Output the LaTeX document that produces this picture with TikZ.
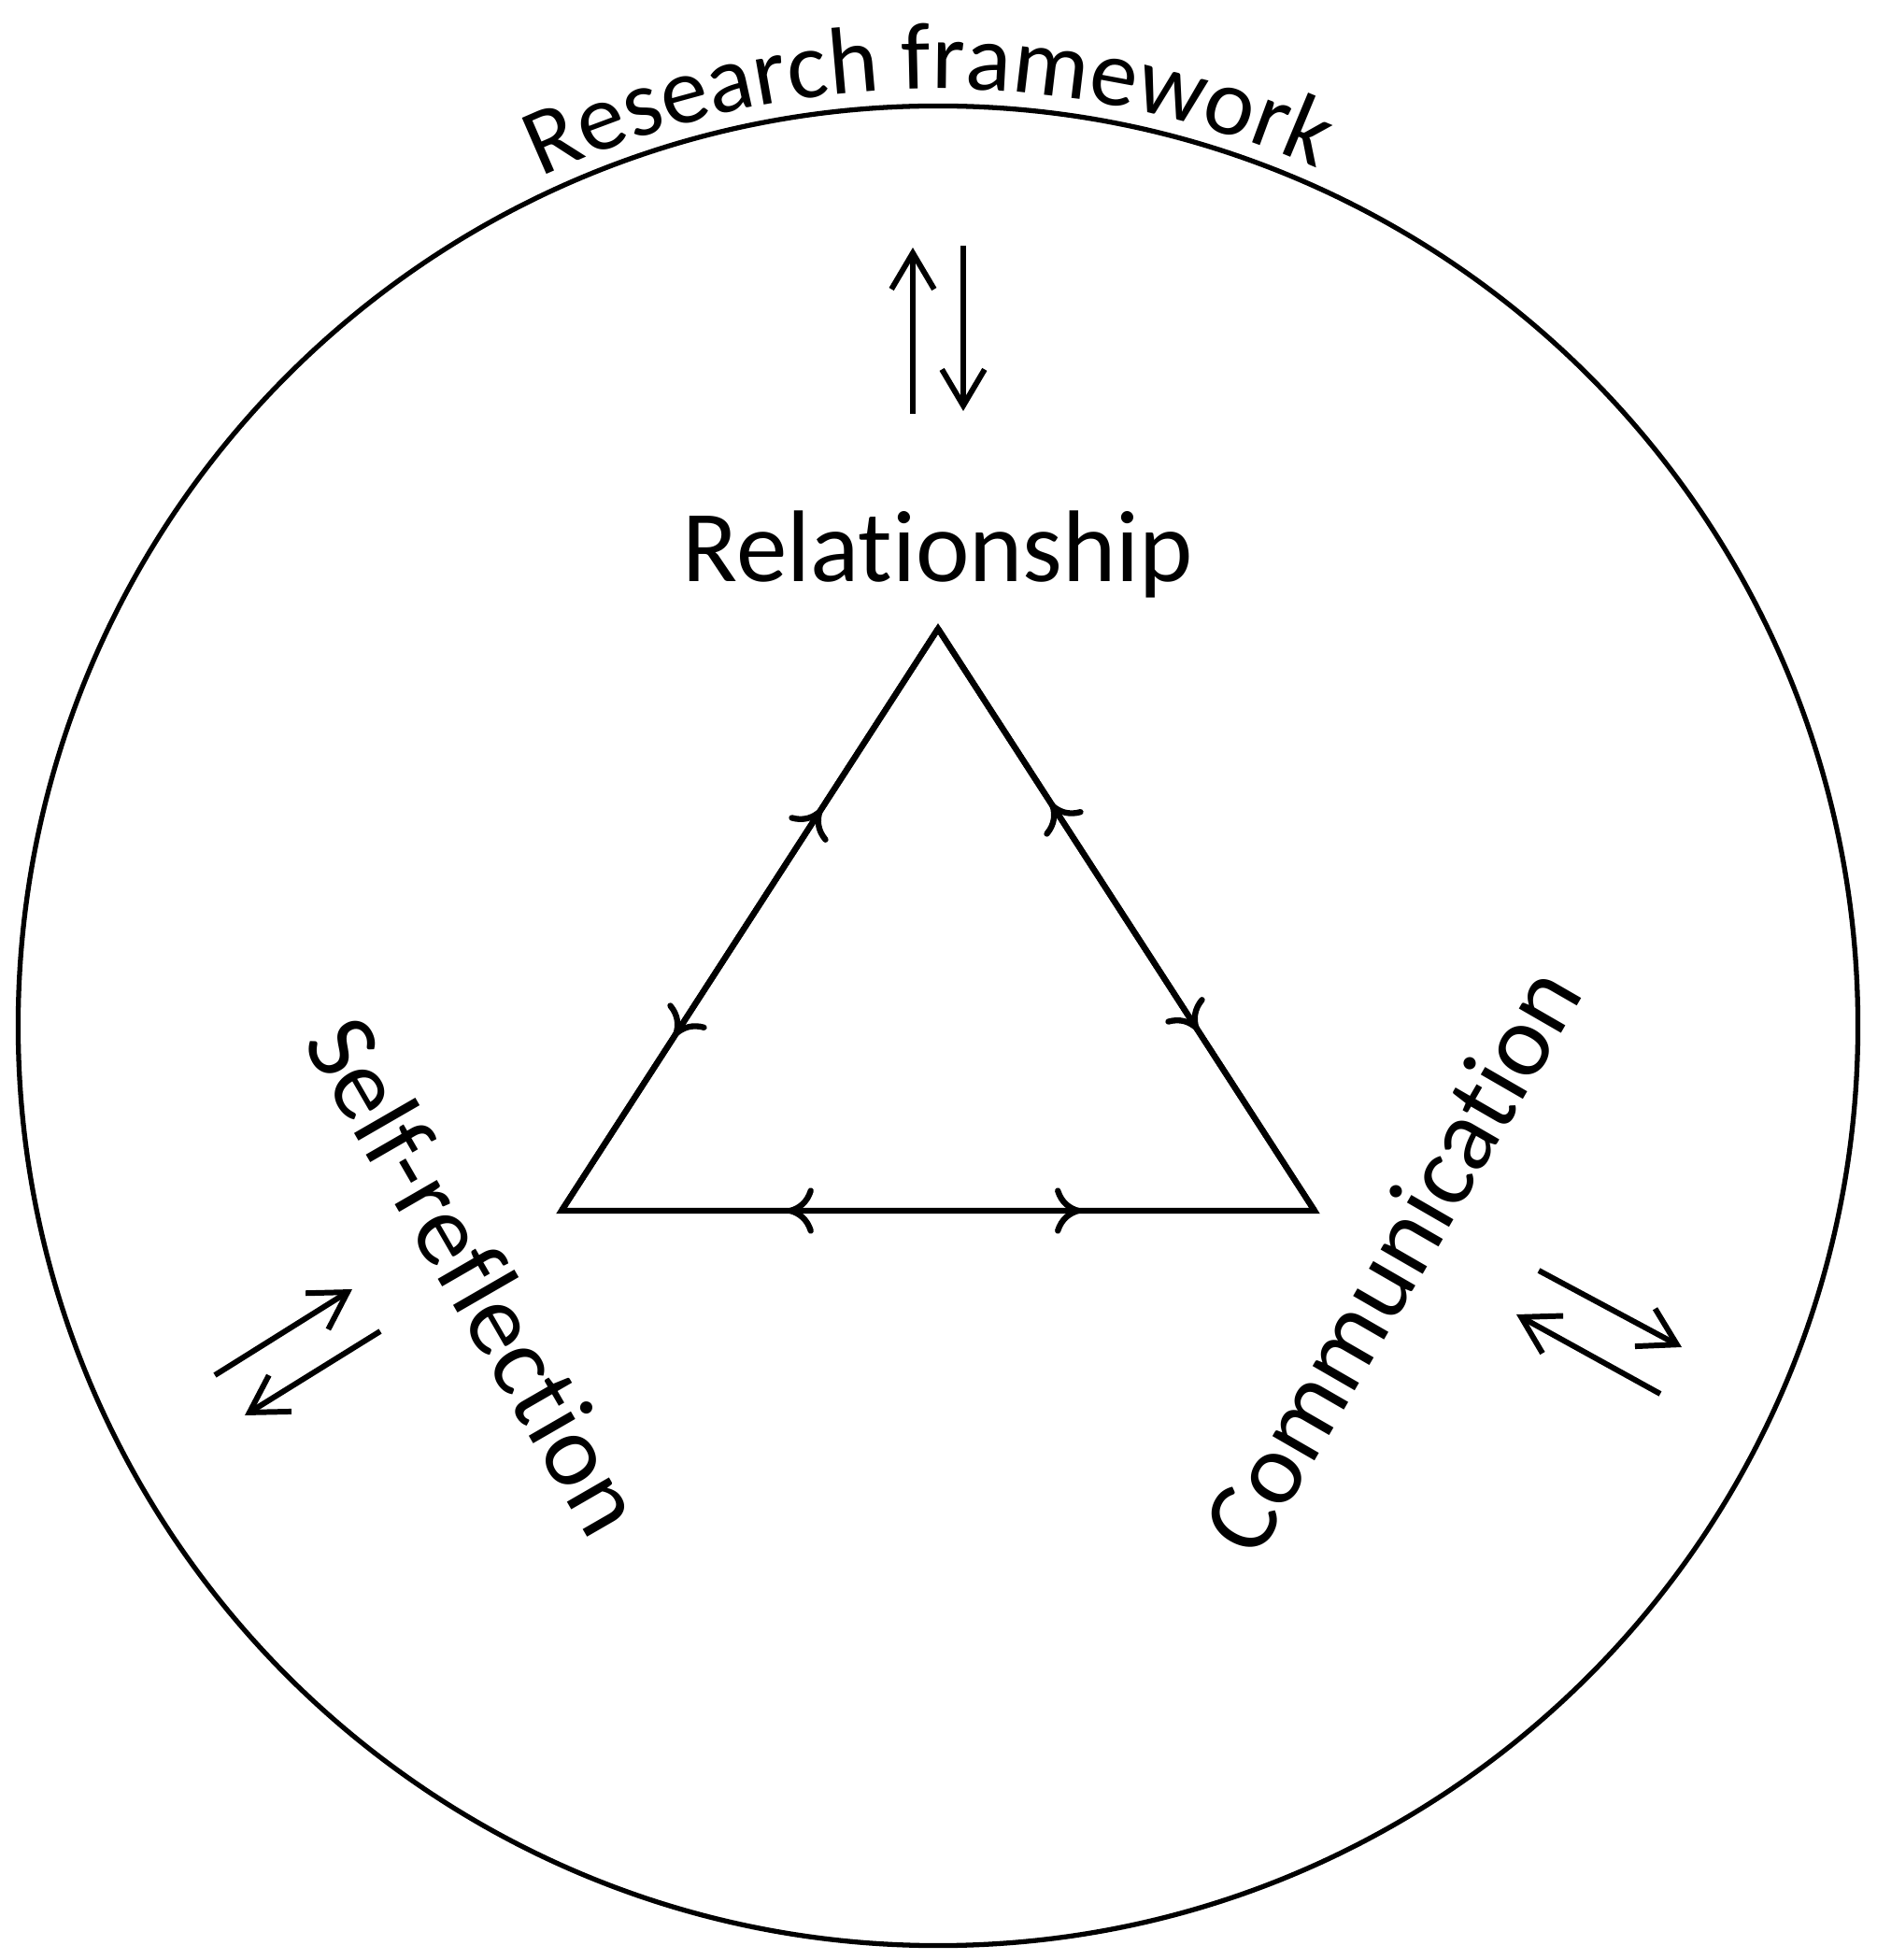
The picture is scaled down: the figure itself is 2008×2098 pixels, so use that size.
\documentclass[tikz,border=0pt]{standalone}
\usepackage{fontspec}
\setmainfont{Carlito}
\usepackage{tikz}
\usetikzlibrary{arrows.meta,decorations.markings,decorations.text}

\begin{document}
\begin{tikzpicture}[x=0.01cm, y=0.01cm,
        pairarrow/.style={line width=1.7pt, -{Straight Barb[length=11pt, width=13pt]}},
        sidearrows/.style={line width=1.8pt, postaction={decorate}, decoration={markings,
            mark=at position 0.3 with {\arrowreversed{Computer Modern Rightarrow[length=8pt, width=14pt]}},
            mark=at position 0.69 with {\arrow{Computer Modern Rightarrow[length=8pt, width=14pt]}}}},
        label/.style={inner sep=0pt, font=\fontsize{31}{37}\selectfont}]
        \useasboundingbox (-1004,-1000) rectangle (1004,1098);

        % outer circle and its title
        \node[draw, circle, line width=1.5pt, minimum size=19.68cm, inner sep=0pt] (0) at (0,0) {};
        \path[decorate, decoration={text along path, text align=center,
            text={|\fontsize{29}{35}\selectfont|Research framework}}]
            (140.6:1003) arc[start angle=140.6, end angle=40.6, radius=1003];

        % triangle
        \coordinate (1) at (0,425);
        \coordinate (2) at (-403,-198);
        \coordinate (3) at (403,-198);
        \draw[line width=1.8pt, line join=miter] (1) -- (2) -- (3) -- cycle;
        \draw[sidearrows] (2) -- (1);
        \draw[sidearrows] (1) -- (3);
        \draw[sidearrows] (2) -- (3);

        % labels (kerns keep t-i and f-l apart)
        \node[label, anchor=base] (4) at (0,475) {Relat\kern0pt ionship};
        \node[label, rotate=-60] (5) at (-494,-267) {Self-ref\kern0pt lect\kern0pt ion};
        \node[label, rotate=60] (6) at (485,-250) {Communicat\kern0pt ion};

        % double arrows
        \coordinate (7) at (-27,655);
        \coordinate (8) at (-27,833);
        \coordinate (9) at (27,835);
        \coordinate (10) at (27,658);
        \draw[pairarrow] (7) -- (8);
        \draw[pairarrow] (9) -- (10);

        \coordinate (11) at (-774,-374);
        \coordinate (12) at (-627,-282);
        \coordinate (13) at (-597,-327);
        \coordinate (14) at (-742,-417);
        \draw[pairarrow] (11) -- (12);
        \draw[pairarrow] (13) -- (14);

        \coordinate (15) at (643,-262);
        \coordinate (16) at (796,-344);
        \coordinate (17) at (773,-394);
        \coordinate (18) at (619,-309);
        \draw[pairarrow] (15) -- (16);
        \draw[pairarrow] (17) -- (18);

    \end{tikzpicture}
\end{document}
